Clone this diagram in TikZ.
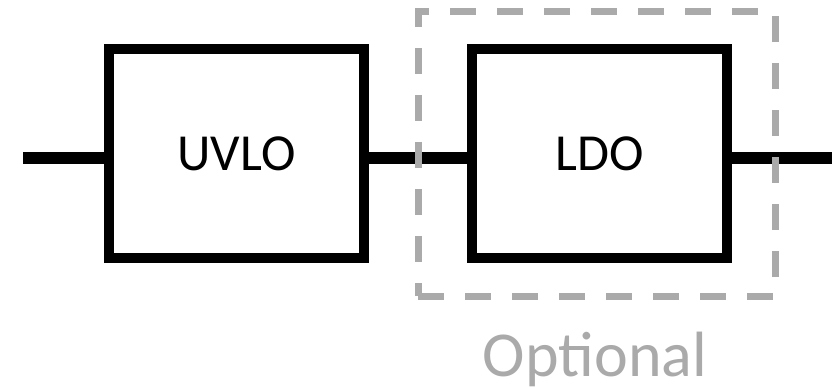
\documentclass[tikz,border=0pt]{standalone}
\usepackage{fontspec}
\setmainfont{Carlito}
\definecolor{optgray}{RGB}{170,170,170}
\begin{document}
\begin{tikzpicture}[x=1pt,y=-1pt,
  block/.style={draw=black,line width=10.5pt,minimum width=255pt,minimum height=209pt,
    inner sep=0pt,font=\fontsize{52}{60}\selectfont},
  wire/.style={line width=12.5pt,black},
  optbox/.style={draw=optgray,line width=7pt,dash pattern=on 26pt off 21pt}]
\useasboundingbox (0,0) rectangle (832,387);
\coordinate (in) at (23,158);
\coordinate (out) at (832,158);
\node[block] (uvlo) at (236.5,153.5) {UVLO};
\node[block] (ldo) at (599.5,153.5) {LDO};
\draw[wire] (in) -- (uvlo.west |- in);
\draw[wire] (uvlo.east |- in) -- (ldo.west |- in);
\draw[wire] (ldo.east |- in) -- (out);
\node[optbox,minimum width=357pt,minimum height=284pt,inner sep=0pt] (opt) at (596.5,154) {};
\node[text=optgray,font=\fontsize{64}{72}\selectfont,anchor=base] (optlabel) at (595,376) {Optional};
\end{tikzpicture}
\end{document}
